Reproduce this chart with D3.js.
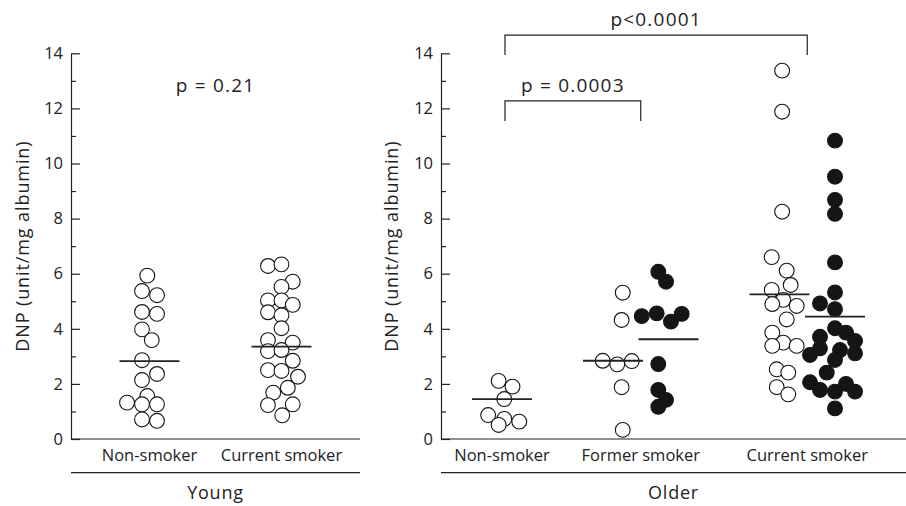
<!DOCTYPE html>
<html>
<head>
<meta charset="utf-8">
<script src="https://cdn.jsdelivr.net/npm/d3@7"></script>
<style>
  body { margin: 0; background: #fff; }
  text { font-family: "Open Sans", sans-serif; fill: #222; }
</style>
</head>
<body>
<div id="chart"></div>
<script>
// DNP values (unit/mg albumin)
// lanes = horizontal dodge of each circle, in circle radii
const youngNonSmoker = [5.93, 5.37, 5.22, 4.61, 4.54, 3.98, 3.59, 2.86, 2.36, 2.14, 1.56, 1.32, 1.26, 1.26, 0.71, 0.66];
const youngNonSmokerLane = [-0.3, -1, 1, -1, 1, -1, 0.3, -1, 1, -1, -0.3, -3, -1, 1, -1, 1];
const youngCurrent = [6.28, 6.34, 5.71, 5.52, 5.03, 5.03, 4.87, 4.60, 4.49, 4.02, 3.59, 3.50, 3.19, 3.23, 2.84, 2.50, 2.47, 2.26, 1.86, 1.68, 1.23, 1.26, 0.86];
const youngCurrentLane = [-1.8, 0, 1.5, 0, -1.8, 0, 1.5, -1.8, 0, 0, -1.8, 1.5, -1.8, 0, 1.5, -1.8, 0, 2.2, 0.85, -1.1, -1.8, 1.5, 0.1];

const olderNonSmoker = [2.11, 1.90, 1.45, 0.87, 0.73, 0.63, 0.51];
const olderNonSmokerLane = [-0.45, 1.4, 0.3, -1.85, 0.3, 2.3, -0.45];
const olderFormerOpen = [5.31, 4.32, 2.84, 2.71, 2.83, 1.88, 0.33];
const olderFormerOpenLane = [1.3, 1.15, -1.37, 0.57, 2.5, 1.15, 1.3];
const olderFormerFilled = [6.07, 5.71, 4.46, 4.56, 4.26, 4.54, 2.72, 1.78, 1.42, 1.17];
const olderFormerFilledLane = [-1.36, -0.33, -3.57, -1.57, 0.33, 1.76, -1.36, -1.36, -0.33, -1.36];
const olderCurrentOpen = [13.37, 11.88, 8.25, 6.60, 6.11, 5.59, 5.41, 5.05, 4.90, 4.83, 4.34, 3.86, 3.50, 3.38, 3.38, 2.53, 2.41, 1.88, 1.62];
const olderCurrentOpenLane = [0.35, 0.35, 0.35, -1.04, 0.96, 1.49, -1.04, 0.5, -0.96, 2.29, 0.96, -0.96, 0.5, -0.96, 2.29, -0.37, 1.17, -0.37, 1.17];
const olderCurrentFilled = [10.83, 9.52, 8.68, 8.17, 6.41, 5.32, 4.92, 4.71, 4.02, 3.86, 3.71, 3.56, 3.23, 3.29, 3.11, 3.05, 2.87, 2.41, 2.06, 1.78, 1.72, 2.00, 1.72, 1.11];
const olderCurrentFilledLane = [0, 0, 0, 0, 0, 0, -2, 0, 0, 1.47, -2, 2.67, 0.67, -2, 2.67, -3.33, 0, -1.1, -3.33, -2, 0, 1.47, 2.67, 0];

// group mean lines
const youngMeans = [2.83, 3.35];
const olderMeans = [1.45, 2.84, 3.62, 5.25, 4.44];

const youngCategories = ["Non-smoker", "Current smoker"];
const olderCategories = ["Non-smoker", "Former smoker", "Current smoker"];
const olderColumns = ["non", "gap1", "formerOpen", "formerFilled", "gap2", "currentOpen", "currentFilled"];
const yTicks = [0, 2, 4, 6, 8, 10, 12, 14];
const yMinorTicks = [1, 3, 5, 7, 9, 11, 13];

const width = 906;
const height = 506;
const r = 7.4;
const axisY0 = 439;
const axisY1 = 53.3;
const ink = "#222";

const svg = d3.select("#chart").append("svg")
  .attr("width", width)
  .attr("height", height)
  .attr("viewBox", [0, 0, width, height]);

const y = d3.scaleLinear().domain([0, 14]).range([axisY0, axisY1]);
const lane = d3.scaleLinear().domain([-1, 1]).range([-7.5, 7.5]);

const xYoung = d3.scalePoint().domain(youngCategories).range([71, 360]).padding(0.595);
const xOlder = d3.scalePoint().domain(olderColumns).range([502, 835]);

const panels = [
  { x0: 71, x1: 360, titleX: 23, name: "Young" },
  { x0: 441, x1: 906, titleX: 392, name: "Older" }
];

// Axes for both panels
panels.forEach(p => {
  const g = svg.append("g").attr("transform", `translate(${p.x0},0)`);
  g.call(d3.axisLeft(y).tickValues(yTicks).tickSizeInner(-9).tickSizeOuter(0).tickPadding(8))
    .call(s => s.select(".domain").attr("stroke", ink).attr("stroke-width", 1.2))
    .call(s => s.selectAll(".tick line").attr("stroke", ink).attr("stroke-width", 1.2))
    .call(s => s.selectAll(".tick text").attr("font-size", 16.5).attr("font-family", "Open Sans").attr("fill", ink));
  g.append("g")
    .call(d3.axisLeft(y).tickValues(yMinorTicks).tickSizeInner(-5).tickSizeOuter(0).tickFormat(""))
    .call(s => s.select(".domain").remove())
    .call(s => s.selectAll(".tick line").attr("stroke", ink).attr("stroke-width", 1.2));

  svg.append("line").attr("x1", p.x0).attr("x2", p.x1).attr("y1", axisY0).attr("y2", axisY0)
    .attr("stroke", ink).attr("stroke-width", 1.2);
  svg.append("line").attr("x1", p.x0).attr("x2", p.x1).attr("y1", 472.7).attr("y2", 472.7)
    .attr("stroke", ink).attr("stroke-width", 1.2);
  svg.append("text").attr("x", (p.x0 + p.x1) / 2).attr("y", 499)
    .attr("text-anchor", "middle").attr("font-size", 18).attr("letter-spacing", 0.8).text(p.name);
  svg.append("text")
    .attr("transform", `translate(${p.titleX},${(axisY0 + axisY1) / 2}) rotate(-90)`)
    .attr("text-anchor", "middle").attr("dy", "0.35em").attr("font-size", 18).attr("letter-spacing", 0.9)
    .text("DNP (unit/mg albumin)");
});

// Point groups
const groups = [
  { cx: xYoung("Non-smoker"), values: youngNonSmoker, lanes: youngNonSmokerLane, mean: youngMeans[0], filled: false },
  { cx: xYoung("Current smoker"), values: youngCurrent, lanes: youngCurrentLane, mean: youngMeans[1], filled: false },
  { cx: xOlder("non"), values: olderNonSmoker, lanes: olderNonSmokerLane, mean: olderMeans[0], filled: false },
  { cx: xOlder("formerOpen"), values: olderFormerOpen, lanes: olderFormerOpenLane, mean: olderMeans[1], filled: false },
  { cx: xOlder("formerFilled"), values: olderFormerFilled, lanes: olderFormerFilledLane, mean: olderMeans[2], filled: true },
  { cx: xOlder("currentOpen"), values: olderCurrentOpen, lanes: olderCurrentOpenLane, mean: olderMeans[3], filled: false },
  { cx: xOlder("currentFilled"), values: olderCurrentFilled, lanes: olderCurrentFilledLane, mean: olderMeans[4], filled: true }
];

groups.forEach(gr => {
  svg.append("g")
    .selectAll("circle")
    .data(gr.values.map((v, i) => ({ v, l: gr.lanes[i] })))
    .join("circle")
    .attr("cx", d => gr.cx + lane(d.l))
    .attr("cy", d => y(d.v))
    .attr("r", r)
    .attr("fill", gr.filled ? "#151515" : "#fff")
    .attr("stroke", "#151515")
    .attr("stroke-width", 1.1);
});

// Mean lines on top
svg.append("g")
  .selectAll("line")
  .data(groups)
  .join("line")
  .attr("x1", d => d.cx - 30)
  .attr("x2", d => d.cx + 30)
  .attr("y1", d => y(d.mean))
  .attr("y2", d => y(d.mean))
  .attr("stroke", "#222")
  .attr("stroke-width", 1.8);

// Category labels
const olderLabelX = {
  "Non-smoker": xOlder("non"),
  "Former smoker": (xOlder("formerOpen") + xOlder("formerFilled")) / 2,
  "Current smoker": (xOlder("currentOpen") + xOlder("currentFilled")) / 2
};
svg.append("g").selectAll("text")
  .data(youngCategories)
  .join("text")
  .attr("x", d => xYoung(d)).attr("y", 461)
  .attr("text-anchor", "middle").attr("font-size", 16.5)
  .text(d => d);
svg.append("g").selectAll("text")
  .data(olderCategories)
  .join("text")
  .attr("x", d => olderLabelX[d]).attr("y", 461)
  .attr("text-anchor", "middle").attr("font-size", 16.5)
  .text(d => d);

// p value annotations
svg.append("text")
  .attr("x", (xYoung("Non-smoker") + xYoung("Current smoker")) / 2)
  .attr("y", y(12.6))
  .attr("text-anchor", "middle").attr("font-size", 19).attr("letter-spacing", 1.2)
  .text("p = 0.21");

const brackets = [
  { from: "Non-smoker", to: "Former smoker", level: 12.27, label: "p = 0.0003" },
  { from: "Non-smoker", to: "Current smoker", level: 14.66, label: "p<0.0001" }
];
brackets.forEach(b => {
  const xa = olderLabelX[b.from] + 3;
  const xb = olderLabelX[b.to];
  const top = y(b.level);
  svg.append("path")
    .attr("d", `M${xa},${top + 20}V${top}H${xb}V${top + 20}`)
    .attr("fill", "none").attr("stroke", ink).attr("stroke-width", 1.2);
  svg.append("text")
    .attr("x", (xa + xb) / 2).attr("y", top - 9)
    .attr("text-anchor", "middle").attr("font-size", 19).attr("letter-spacing", 1.2)
    .text(b.label);
});
</script>
</body>
</html>
